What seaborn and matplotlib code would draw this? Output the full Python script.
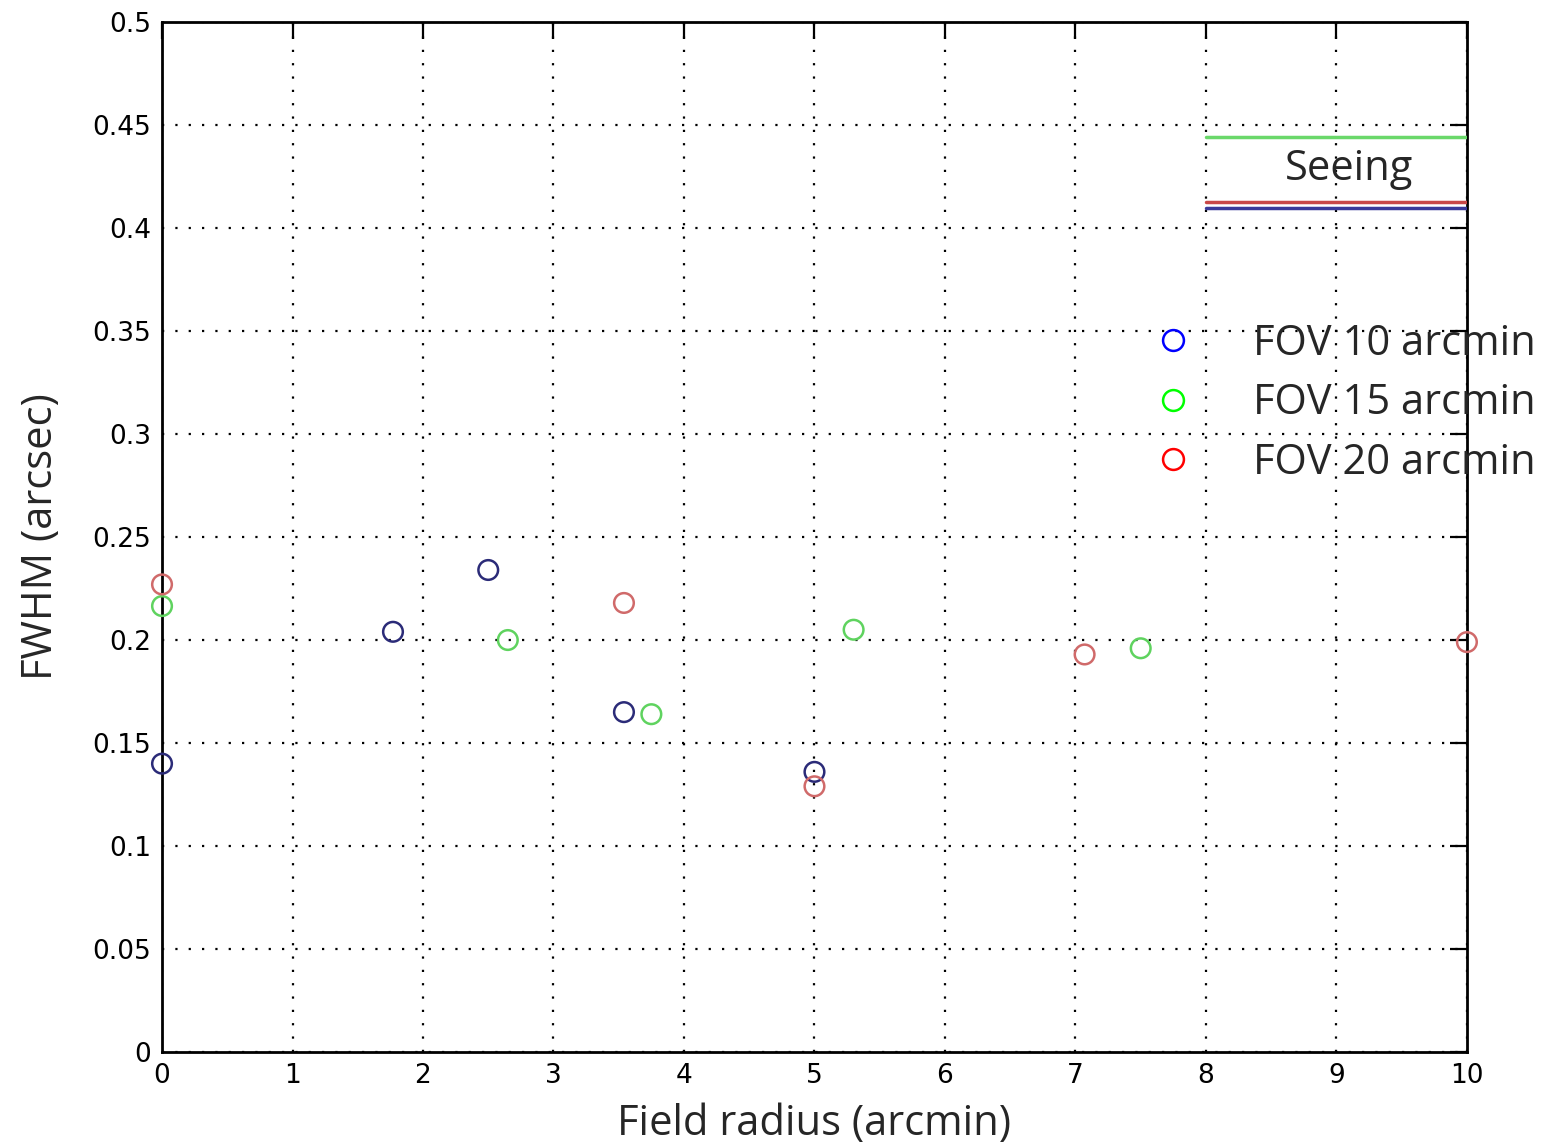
import numpy as np
import pandas as pd
import seaborn as sns
from matplotlib import pyplot as plt
from matplotlib.lines import Line2D

# point data
fov10_r = [0.0, 1.77, 2.5, 3.54, 5.0]
fov10_fwhm = [0.140, 0.204, 0.234, 0.165, 0.136]
fov15_r = [0.0, 2.65, 3.75, 5.3, 7.5]
fov15_fwhm = [0.2165, 0.200, 0.164, 0.205, 0.196]
fov20_r = [0.0, 3.54, 5.0, 7.07, 10.0]
fov20_fwhm = [0.227, 0.218, 0.129, 0.193, 0.199]

# seeing levels (drawn between x=8 and x=10)
seeing_x = [8, 10]
seeing_fov10 = 0.4097
seeing_fov15 = 0.4442
seeing_fov20 = 0.4127

labels = ["FOV 10 arcmin", "FOV 15 arcmin", "FOV 20 arcmin"]
xticks = list(range(0, 11))
yticks = [0, 0.05, 0.1, 0.15, 0.2, 0.25, 0.3, 0.35, 0.4, 0.45, 0.5]
ytick_labels = ["0", "0.05", "0.1", "0.15", "0.2", "0.25", "0.3", "0.35", "0.4", "0.45", "0.5"]

df = pd.DataFrame({
    "r": fov10_r + fov15_r + fov20_r,
    "fwhm": fov10_fwhm + fov15_fwhm + fov20_fwhm,
    "fov": [labels[0]] * 5 + [labels[1]] * 5 + [labels[2]] * 5,
})

sns.set_style("white")
plt.rcParams['font.family'] = ['Open Sans', 'DejaVu Sans']

fig = plt.figure(figsize=(15.43, 11.48), dpi=100)
ax = fig.add_axes([0.105, 0.0836, 0.8457, 0.8972])

# points in the plot are drawn in muted versions of the legend colours
plot_cols = {labels[0]: "#2b2b78", labels[1]: "#5fd35f", labels[2]: "#d06a6a"}
sns.scatterplot(data=df, x="r", y="fwhm", hue="fov", palette=plot_cols, ax=ax,
                marker="o", s=200, facecolors="none", linewidth=1.8, legend=False,
                clip_on=False, zorder=5)
# seaborn fills markers with the hue colour; switch them to open circles
coll = ax.collections[0]
coll.set_edgecolors(coll.get_facecolors())
coll.set_facecolors("none")

ax.plot(seeing_x, [seeing_fov15] * 2, color="#6ad86a", lw=2.5, zorder=4)
ax.plot(seeing_x, [seeing_fov20] * 2, color="#c84848", lw=2.5, zorder=4)
ax.plot(seeing_x, [seeing_fov10] * 2, color="#3a3a9a", lw=2.5, zorder=4)
ax.text(9.1, 0.4285, "Seeing", fontsize=30, ha="center", va="center")

ax.set_xlim(0, 10)
ax.set_ylim(0, 0.5)
ax.set_xticks(xticks)
ax.set_yticks(yticks)
ax.set_xticklabels([str(t) for t in xticks])
ax.set_yticklabels(ytick_labels)
tick_font = ['Liberation Sans Narrow', 'DejaVu Sans']
for lbl in ax.get_xticklabels() + ax.get_yticklabels():
    lbl.set_family(tick_font)
    lbl.set_fontsize(19)
ax.tick_params(direction="in", length=12, width=1.6, top=True, right=True,
               colors="black", pad=8)
ax.grid(True, linestyle=(0, (1, 5)), color="black", linewidth=1.6)
for s in ax.spines.values():
    s.set_visible(True)
    s.set_color("black")
    s.set_linewidth(2)

ax.set_xlabel("Field radius (arcmin)", fontsize=30, labelpad=10)
ax.set_ylabel("FWHM (arcsec)", fontsize=30, labelpad=22)

handles = [Line2D([], [], linestyle="none", marker="o", markersize=15, markerfacecolor="none",
                  markeredgecolor=c, markeredgewidth=1.8) for c in ["blue", "lime", "red"]]
leg = ax.legend(handles, labels, loc="upper left", bbox_to_anchor=(0.743, 0.708),
                frameon=False, fontsize=30, handlelength=2, handletextpad=0.92,
                labelspacing=0.42, borderpad=0, borderaxespad=0)

fig.savefig("out.png", dpi=100)
